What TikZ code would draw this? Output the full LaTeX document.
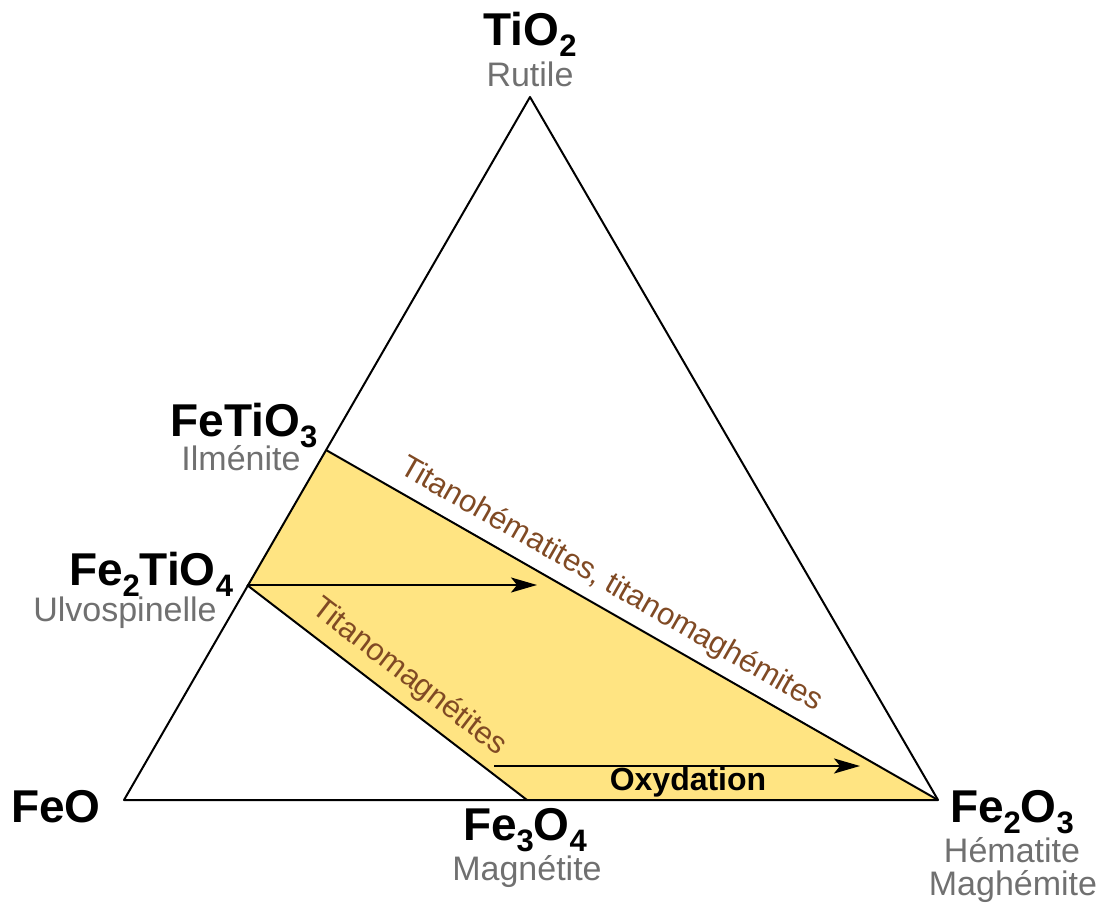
\documentclass[tikz,border=0pt]{standalone}
\usepackage{fontspec}
\setmainfont{Liberation Sans}
\usetikzlibrary{arrows.meta}
\definecolor{fillyellow}{RGB}{255,228,130}
\definecolor{labelbrown}{RGB}{128,74,36}
\definecolor{labelgray}{RGB}{112,112,112}
\newcommand{\sbs}[1]{\raisebox{-11pt}{\fontsize{31}{31}\selectfont #1}}
\tikzset{
  formula/.style={font=\fontsize{46}{50}\selectfont\bfseries, text=black, inner sep=0pt, anchor=base},
  mineral/.style={font=\fontsize{34}{36}\selectfont, text=labelgray, inner sep=0pt, anchor=base},
  series/.style={font=\fontsize{31}{34}\selectfont, text=labelbrown, inner sep=0pt, anchor=base},
  edge/.style={line width=2pt, line join=round},
  oxarrow/.style={line width=2pt, -{Stealth[length=26pt,width=15pt,inset=6pt]}}
}
\begin{document}
\begin{tikzpicture}[x=1pt,y=-1pt]
\useasboundingbox (0,0) rectangle (1104,904);
% vertices
\coordinate (FeO) at (124,800);
\coordinate (Fe2O3) at (938,800);
\coordinate (TiO2) at (530,97);
\coordinate (FeTiO3) at (326,450);
\coordinate (Fe2TiO4) at (247,585);
\coordinate (Fe3O4) at (527,800);
\coordinate (arrA) at (537,585);
\coordinate (arrB0) at (494,766);
\coordinate (arrB) at (860,766);
% yellow field
\fill[fillyellow] (FeTiO3) -- (Fe2O3) -- (Fe3O4) -- (Fe2TiO4) -- cycle;
% triangle and joins
\draw[edge] (FeO) -- (TiO2) -- (Fe2O3) -- cycle;
\draw[edge] (FeTiO3) -- (Fe2O3);
\draw[edge] (Fe2TiO4) -- (Fe3O4);
% arrows
\draw[oxarrow] (Fe2TiO4) -- (arrA);
\draw[oxarrow] (arrB0) -- (arrB);
% labels
\node[formula] (lTiO2) at (530,46) {TiO\sbs{2}};
\node[mineral] (mTiO2) at (530,87) {Rutile};
\node[formula] (lFeTiO3) at (244,436) {FeTiO\sbs{3}};
\node[mineral] (mFeTiO3) at (241,470) {Ilménite};
\node[formula] (lFe2TiO4) at (151,585) {Fe\sbs{2}TiO\sbs{4}};
\node[mineral] (mFe2TiO4) at (125,621) {Ulvospinelle};
\node[formula] (lFeO) at (56,822) {FeO};
\node[formula] (lFe3O4) at (525,840) {Fe\sbs{3}O\sbs{4}};
\node[mineral] (mFe3O4) at (527,880) {Magnétite};
\node[formula] (lFe2O3) at (1012,822) {Fe\sbs{2}O\sbs{3}};
\node[mineral] (mFe2O3a) at (1012,862) {Hématite};
\node[mineral] (mFe2O3b) at (1013,895) {Maghémite};
\node[series, rotate=-29.76] (sHem) at (607,592) {Titanohématites, titanomaghémites};
\node[series, rotate=-37.5] (sMag) at (404,684) {Titanomagnétites};
\node[font=\fontsize{32}{34}\selectfont\bfseries, inner sep=0pt, anchor=base] (ox) at (688,790) {Oxydation};
\end{tikzpicture}
\end{document}
